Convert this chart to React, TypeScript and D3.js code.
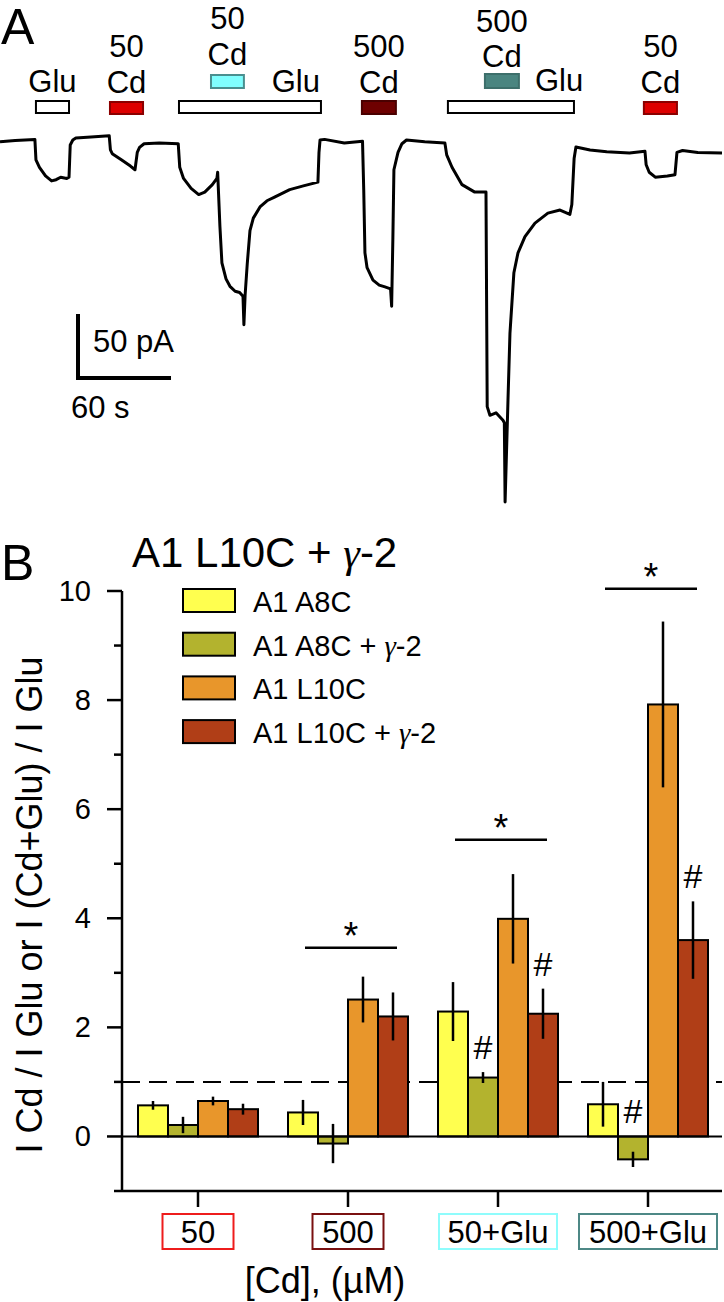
import React from 'react';
import * as d3 from 'd3';

// ---------- Panel A data (time in s, current in pA) ----------
const traceT = [0, 10, 23, 23.7, 26, 30, 34, 37, 40, 44, 45.5, 46.3, 48, 50, 60, 72, 72.8, 74, 80, 86, 89, 90.5, 92, 95, 105, 117.5,
  118.5, 121, 126, 131, 135, 140, 143, 143.5, 145, 146.3, 149, 151.6, 155, 158, 160.2, 160.8, 161.6, 163, 164.8, 167, 171.4, 176, 181, 191, 200, 209.6,
  210.3, 211, 214, 227, 239, 239.8, 240.6, 242, 245.9, 250, 253.8, 257.5, 258.2, 259, 259.7, 262.4, 265, 268, 280, 293.3,
  294.5, 298, 304.6, 313, 320.4, 320.9, 321.2, 323, 327, 331.6, 332.5, 333, 334.9, 336.2, 338.8, 341.5, 346.1, 352.7, 361.2, 369.2, 375.7, 377,
  378.5, 379.7, 389, 400, 415, 425.2, 426, 428, 432, 440, 445, 446.3, 450, 460, 476];
const traceI = [-1.4, -0.5, 0.5, -16, -22, -29, -33, -32, -30, -31, -30, -4, 0, 1.6, 2.5, 3.5, -8, -11, -16, -21, -24, -10, -6, -3, -2.4, -3,
  -22, -31, -39, -44, -42, -36, -31, -26, -70, -99, -112, -118, -122, -123, -126, -149, -125, -100, -73, -63, -54, -49, -46, -40, -37, -34,
  -10, 0, 0.5, -2.4, -1, -40, -91, -103, -113, -117, -118.5, -120, -134, -80, -24, -10, -3, 0, -1.5, -2.5,
  -12, -22, -36, -42, -42, -150, -215, -222, -220, -226, -228, -292, -210, -156, -107, -91, -78, -67, -59, -56.5, -60, -52,
  -15, -5.6, -8, -9.5, -10.5, -9, -20, -26, -30, -29, -28, -10, -8.5, -10, -10.5];

const stimStart = [23.7, 72.5, 118, 139.1, 238.6, 295.3, 319.7, 424.5];
const stimEnd = [45.5, 94.3, 211.6, 160.8, 261, 378.4, 342.1, 446.3];
const stimType = ['Glu', 'Cd50', 'Glu', 'Cd50Glu', 'Cd500', 'Glu', 'Cd500Glu', 'Cd50'];
const scaleBarTime = 60;
const scaleBarCurrent = 50;

// ---------- Panel B data ----------
const categories = ['50', '500', '50+Glu', '500+Glu'];
const seriesNames = ['A1 A8C', 'A1 A8C + γ-2', 'A1 L10C', 'A1 L10C + γ-2'];
const a8cMean = [0.57, 0.44, 2.29, 0.59];
const a8cErr = [0.08, 0.23, 0.54, 0.41];
const a8cG2Mean = [0.21, -0.13, 1.08, -0.42];
const a8cG2Err = [0.15, 0.36, 0.1, 0.14];
const l10cMean = [0.65, 2.51, 3.99, 7.92];
const l10cErr = [0.08, 0.42, 0.82, 1.52];
const l10cG2Mean = [0.5, 2.2, 2.25, 3.6];
const l10cG2Err = [0.1, 0.44, 0.46, 0.71];
const yTicksMajor = [0, 2, 4, 6, 8, 10];
const yTicksMinor = [1, 3, 5, 7, 9];
const sigCategories = ['500', '50+Glu', '500+Glu'];
const sigLevels = [3.46, 5.44, 10.04];
const hashCategories = ['50+Glu', '50+Glu', '500+Glu', '500+Glu'];
const hashSeries = [1, 3, 1, 3];

const seriesColors = ['#ffff4f', '#b3b32e', '#e8962b', '#b03e17'];
const catBoxColors = ['#ee1c1c', '#7a1010', '#8ffcfc', '#4d8886'];
const catBoxWidths = [71, 71, 118, 138];

const FONT = 'Liberation Sans, Arial, Helvetica, sans-serif';

function GammaText({ text, ...rest }: any) {
  const parts = text.split('γ');
  return (
    <text {...rest}>
      {parts.map((p: string, i: number) => (
        <React.Fragment key={i}>
          <tspan>{p}</tspan>
          {i < parts.length - 1 && <tspan fontFamily="Liberation Serif, Times New Roman, serif" fontStyle="italic">γ</tspan>}
        </React.Fragment>
      ))}
    </text>
  );
}

export default function App() {
  // Panel A scales
  const xT = d3.scaleLinear().domain([0, 476]).range([0, 722]);
  const yT = d3.scaleLinear().domain([0, -50]).range([140, 202]);
  const line = d3.line<number>().x((d, i) => xT(traceT[i])).y((d) => yT(d)).curve(d3.curveLinear);
  const tracePath = line(traceI) || '';

  const stimStyle: Record<string, any> = {
    Glu: { fill: '#ffffff', stroke: '#000', y: 101, h: 12 },
    Cd50: { fill: '#dd0000', stroke: '#8b0000', y: 102, h: 12 },
    Cd500: { fill: '#6e0000', stroke: '#4a0000', y: 101, h: 13 },
    Cd50Glu: { fill: '#80ffff', stroke: '#4a8f8f', y: 75, h: 13 },
    Cd500Glu: { fill: '#4a8580', stroke: '#3d6f6b', y: 74, h: 14 },
  };
  const cx = (i: number) => (xT(stimStart[i]) + xT(stimEnd[i])) / 2;

  const sbLen = xT(scaleBarTime) - xT(0);
  const sbH = yT(-scaleBarCurrent) - yT(0);
  const sbX = 78, sbY = 378;

  // Panel B scales
  const xB = d3.scaleBand<string>().domain(categories).range([123, 723]).paddingInner(0.2).paddingOuter(0.1);
  const xS = d3.scaleBand<number>().domain([0, 1, 2, 3]).range([0, xB.bandwidth()]);
  const yB = d3.scaleLinear().domain([-1, 10]).range([1191, 591]);
  const axisX = 122;
  const means = [a8cMean, a8cG2Mean, l10cMean, l10cG2Mean];
  const errs = [a8cErr, a8cG2Err, l10cErr, l10cG2Err];

  return (
    <svg width={724} height={1302} style={{ position: 'absolute', left: 0, top: 0, background: '#fff' }} fontFamily={FONT}>
      <rect x={0} y={0} width={724} height={1302} fill="#fff" />
      {/* Panel A */}
      <text x={1} y={44} fontSize={50}>A</text>
      {stimType.map((t, i) => {
        const s = stimStyle[t];
        return <rect key={i} x={xT(stimStart[i])} y={s.y} width={xT(stimEnd[i]) - xT(stimStart[i])} height={s.h} fill={s.fill} stroke={s.stroke} strokeWidth={2} />;
      })}
      <g fontSize={31} textAnchor="middle">
        <text x={cx(0)} y={92}>Glu</text>
        <text x={cx(1)} y={57}>50</text>
        <text x={cx(1)} y={93}>Cd</text>
        <text x={xT(stimEnd[2]) - 1} y={92} textAnchor="end">Glu</text>
        <text x={cx(3)} y={29}>50</text>
        <text x={cx(3)} y={65}>Cd</text>
        <text x={cx(4)} y={57}>500</text>
        <text x={cx(4)} y={93}>Cd</text>
        <text x={cx(6)} y={32}>500</text>
        <text x={cx(6)} y={67}>Cd</text>
        <text x={535} y={91} textAnchor="start">Glu</text>
        <text x={cx(7)} y={57}>50</text>
        <text x={cx(7)} y={93}>Cd</text>
      </g>
      <path d={tracePath} fill="none" stroke="#000" strokeWidth={3} strokeLinejoin="round" />
      {/* scale bar */}
      <path d={`M${sbX},${sbY - sbH}V${sbY}H${sbX + sbLen}`} fill="none" stroke="#000" strokeWidth={4} strokeLinecap="square" />
      <text x={93} y={352} fontSize={31}>50 pA</text>
      <text x={71} y={418} fontSize={31}>60 s</text>

      {/* Panel B */}
      <text x={1} y={580} fontSize={50}>B</text>
      <GammaText text="A1 L10C + γ-2" x={132} y={567} fontSize={42} />
      {/* legend */}
      {seriesNames.map((n, i) => (
        <g key={n}>
          <rect x={183} y={589 + i * 43.7} width={52} height={23} fill={seriesColors[i]} stroke="#000" strokeWidth={2} />
          <GammaText text={n} x={253} y={612 + i * 43.7} fontSize={29} />
        </g>
      ))}
      {/* dashed line at 1 */}
      <line x1={axisX} x2={722} y1={yB(1)} y2={yB(1)} stroke="#000" strokeWidth={2} strokeDasharray="18,9" />
      {/* bars */}
      {categories.map((c, ci) => (
        <g key={c}>
          {means.map((m, si) => {
            const v = m[ci];
            const x0 = (xB(c) as number) + (xS(si) as number);
            return (
              <rect key={si} x={x0} y={Math.min(yB(v), yB(0))} width={xS.bandwidth()} height={Math.abs(yB(v) - yB(0))}
                fill={seriesColors[si]} stroke="#000" strokeWidth={2} />
            );
          })}
        </g>
      ))}
      {/* zero line */}
      <line x1={axisX} x2={722} y1={yB(0)} y2={yB(0)} stroke="#000" strokeWidth={2} />
      {/* error bars */}
      {categories.map((c, ci) => means.map((m, si) => {
        const xm = (xB(c) as number) + (xS(si) as number) + xS.bandwidth() / 2;
        return <line key={c + si} x1={xm} x2={xm} y1={yB(m[ci] - errs[si][ci])} y2={yB(m[ci] + errs[si][ci])} stroke="#000" strokeWidth={2.5} />;
      }))}
      {/* significance */}
      {sigCategories.map((c, i) => {
        const x0 = (xB(c) as number) + 17;
        const x1 = (xB(c) as number) + 109;
        const y = yB(sigLevels[i]);
        return (
          <g key={c}>
            <line x1={x0} x2={x1} y1={y} y2={y} stroke="#000" strokeWidth={2.5} />
            <text x={(x0 + x1) / 2} y={y + 1} fontSize={38} textAnchor="middle">*</text>
          </g>
        );
      })}
      {hashCategories.map((c, i) => {
        const si = hashSeries[i];
        const ci = categories.indexOf(c);
        const xm = (xB(c) as number) + (xS(si) as number) + xS.bandwidth() / 2;
        const top = Math.min(yB(0), yB(means[si][ci] + errs[si][ci]));
        return <text key={i} x={xm} y={top - 13} fontSize={34} textAnchor="middle">#</text>;
      })}
      {/* axes */}
      <line x1={axisX} x2={axisX} y1={591} y2={yB(-1)} stroke="#000" strokeWidth={2.5} />
      <line x1={114} x2={722} y1={yB(-1)} y2={yB(-1)} stroke="#000" strokeWidth={2.5} />
      {yTicksMajor.map((t) => (
        <g key={t}>
          <line x1={107} x2={axisX} y1={yB(t)} y2={yB(t)} stroke="#000" strokeWidth={2.5} />
          <text x={91} y={yB(t) + 10} fontSize={29} textAnchor="end">{t}</text>
        </g>
      ))}
      {yTicksMinor.map((t) => (
        <line key={t} x1={114} x2={axisX} y1={yB(t)} y2={yB(t)} stroke="#000" strokeWidth={2.5} />
      ))}
      {categories.map((c, i) => {
        const xm = (xB(c) as number) + xB.bandwidth() / 2;
        return (
          <g key={c}>
            <line x1={xm} x2={xm} y1={yB(-1)} y2={yB(-1) + 16} stroke="#000" strokeWidth={2.5} />
            <rect x={xm - catBoxWidths[i] / 2} y={1214} width={catBoxWidths[i]} height={35} fill="none" stroke={catBoxColors[i]} strokeWidth={2} />
            <text x={xm} y={1243} fontSize={31} textAnchor="middle">{c}</text>
          </g>
        );
      })}
      <text x={325} y={1293} fontSize={36} textAnchor="middle">[Cd], (µM)</text>
      <text transform={`translate(42,905) rotate(-90)`} fontSize={36} textAnchor="middle">I Cd / I Glu or I (Cd+Glu) / I Glu</text>
    </svg>
  );
}
